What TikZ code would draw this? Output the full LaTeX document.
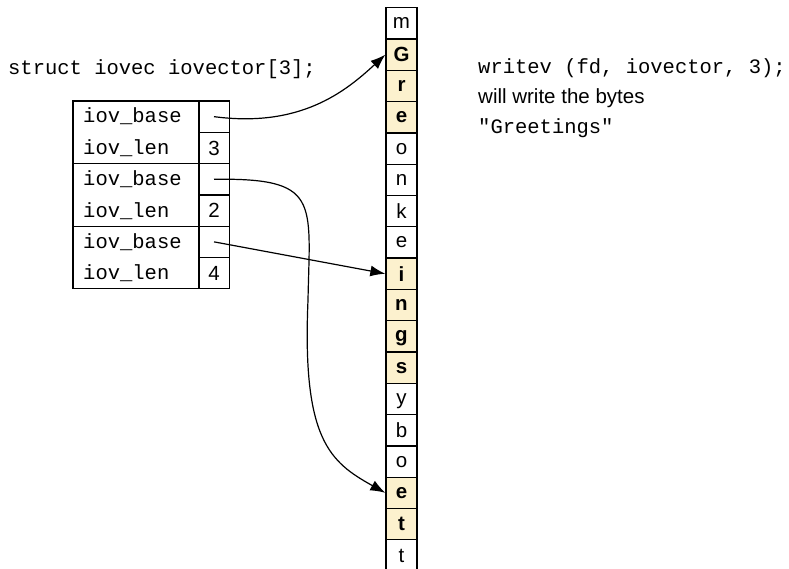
\documentclass[tikz,border=0pt]{standalone}
\usepackage{fontspec}
\setmainfont{Liberation Sans}
\setmonofont{Liberation Mono}
\usetikzlibrary{arrows.meta}

\definecolor{hilite}{HTML}{FCF1CE}

\begin{document}
\begin{tikzpicture}[x=1pt, y=-1pt,
    every node/.style={font=\fontsize{20.5}{24}\selectfont},
    code/.style={font=\fontsize{20.5}{24}\selectfont\ttfamily, inner sep=0pt},
    txt/.style={inner sep=0pt},
    cell/.style={draw, line width=1.3pt, minimum width=31pt, minimum height=31.3pt,
                 inner sep=0pt, text depth=0pt},
    hot/.style={cell, fill=hilite, font=\fontsize{20.5}{24}\selectfont\bfseries},
    field/.style={draw, line width=1.3pt, minimum width=126pt, minimum height=62.6pt},
    arr/.style={-{Latex[length=15pt,width=11pt]}, line width=1.2pt},
]
\useasboundingbox (0,0) rectangle (789,569);

% the bytes in memory
\foreach \ch/\st [count=\i] in {m/cell, G/hot, r/hot, e/hot, o/cell, n/cell,
    k/cell, e/cell, i/hot, n/hot, g/hot, s/hot, y/cell, b/cell, o/cell,
    e/hot, t/hot, t/cell}
  \node[\st] (c\i) at (401.5, {7.7+31.3*(\i-0.5)}) {\ch};

% the iovec array
\node[code, anchor=base west] (decl) at (8,75) {struct iovec iovector[3];};

\foreach \k in {1,2,3} {
  \node[field] (f\k) at (136, {132.3+62.6*(\k-1)}) {};
  \node[cell] (b\k) at (214, {116.65+62.6*(\k-1)}) {};
  \node[code, anchor=base west] (nb\k) at (83, {123+62.6*(\k-1)}) {iov\_base};
  \node[code, anchor=base west] (nl\k) at (83, {154.5+62.6*(\k-1)}) {iov\_len};
}
\node[cell] (l1) at (214, 147.95) {3};
\node[cell] (l2) at (214, 210.55) {2};
\node[cell] (l3) at (214, 273.15) {4};

% the call
\node[code, anchor=base west] (call) at (478,74) {writev (fd, iovector, 3);};
\node[txt, anchor=base west] (say) at (478,104) {will write the bytes};
\node[code, anchor=base west] (word) at (478,134) {"Greetings"};

% pointers
\draw[arr] (b1.center) .. controls (300,128) and (345,92) .. (c2.west);
\draw[arr] (b2.center) .. controls (320,178) and (310,200) .. (308,300)
           .. controls (302,440) and (330,462) .. (c16.west);
\draw[arr] (b3.center) -- (c9.west);
\end{tikzpicture}
\end{document}
